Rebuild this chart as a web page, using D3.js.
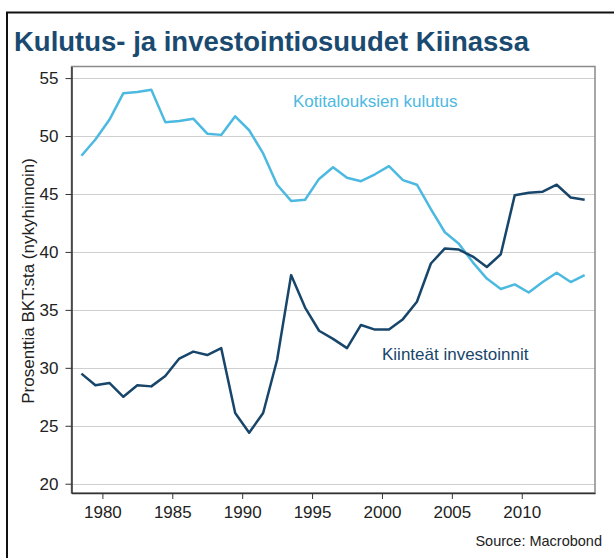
<!DOCTYPE html>
<html>
<head>
<meta charset="utf-8">
<script src="https://cdn.jsdelivr.net/npm/d3@7"></script>
<style>
  body { margin: 0; background: #fff; }
  svg { display: block; font-family: "Liberation Sans", Arial, sans-serif; }
</style>
</head>
<body>
<svg id="chart"></svg>
<script>
const years = d3.range(1978, 2015);

// Kotitalouksien kulutus, % BKT:sta
const consumption = [
  48.3, 49.7, 51.4, 53.7, 53.8, 54.0, 51.2, 51.3, 51.5, 50.2,
  50.1, 51.7, 50.5, 48.5, 45.8, 44.4, 44.5, 46.3, 47.3, 46.4,
  46.1, 46.7, 47.4, 46.2, 45.8, 43.7, 41.7, 40.7, 39.1, 37.7,
  36.8, 37.2, 36.5, 37.4, 38.2, 37.4, 38.0
];

// Kiinteät investoinnit, % BKT:sta
const investment = [
  29.5, 28.5, 28.7, 27.5, 28.5, 28.4, 29.3, 30.8, 31.4, 31.1,
  31.7, 26.1, 24.4, 26.1, 30.7, 38.0, 35.2, 33.2, 32.5, 31.7,
  33.7, 33.3, 33.3, 34.2, 35.7, 39.0, 40.3, 40.2, 39.6, 38.7,
  39.8, 44.9, 45.1, 45.2, 45.8, 44.7, 44.5
];

const yTicks = [20, 25, 30, 35, 40, 45, 50, 55];
const xTicks = [1980, 1985, 1990, 1995, 2000, 2005, 2010];

const width = 614, height = 558;
const margin = { top: 66.5, right: 19, bottom: 65, left: 71.5 };
const lightBlue = '#4cb9e1';
const navy = '#18466b';

const svg = d3.select('#chart')
  .attr('width', width)
  .attr('height', height);

// outer frame (cut off at right and bottom)
svg.append('path')
  .attr('d', `M7,${height + 5}V12.5H${width + 5}`)
  .attr('fill', 'none')
  .attr('stroke', '#111')
  .attr('stroke-width', 2);

svg.append('text')
  .attr('x', 14)
  .attr('y', 51)
  .attr('fill', '#1b4a70')
  .attr('font-size', 27.5)
  .attr('font-weight', 'bold')
  .text('Kulutus- ja investointiosuudet Kiinassa');

const x = d3.scaleLinear()
  .domain([1977.79, 2015.24])
  .range([margin.left, width - margin.right]);

const y = d3.scaleLinear()
  .domain([19.2, 56])
  .range([height - margin.bottom, margin.top]);

// gridlines
svg.append('g')
  .selectAll('line')
  .data(yTicks)
  .join('line')
    .attr('x1', margin.left)
    .attr('x2', width - margin.right)
    .attr('y1', d => Math.round(y(d)) + 0.5)
    .attr('y2', d => Math.round(y(d)) + 0.5)
    .attr('stroke', '#cfcfcf')
    .attr('stroke-width', 1.2);

// plot box
svg.append('rect')
  .attr('x', margin.left)
  .attr('y', margin.top)
  .attr('width', width - margin.right - margin.left)
  .attr('height', height - margin.bottom - margin.top)
  .attr('fill', 'none')
  .attr('stroke', '#8a8a8a')
  .attr('stroke-width', 1.5);

const yAxis = g => g
  .attr('transform', `translate(${margin.left},0)`)
  .call(d3.axisLeft(y).tickValues(yTicks).tickSize(6).tickPadding(7).tickSizeOuter(0))
  .call(g => g.select('.domain').attr('stroke', '#333').attr('stroke-width', 1.5));

const xAxis = g => g
  .attr('transform', `translate(0,${height - margin.bottom})`)
  .call(d3.axisBottom(x).tickValues(xTicks).tickFormat(d3.format('d')).tickSize(6).tickPadding(6.5).tickSizeOuter(0))
  .call(g => g.select('.domain').attr('stroke', '#333').attr('stroke-width', 1.5));

[yAxis, xAxis].forEach(ax => {
  svg.append('g')
    .call(ax)
    .call(g => g.selectAll('.tick line').attr('stroke', '#333'))
    .call(g => g.selectAll('.tick text')
      .attr('fill', '#222')
      .attr('font-size', 17)
      .attr('font-family', '"Liberation Sans", Arial, sans-serif'));
});

svg.append('text')
  .attr('transform', `translate(34,${(y(20) + y(55)) / 2}) rotate(-90)`)
  .attr('text-anchor', 'middle')
  .attr('fill', '#222')
  .attr('font-size', 17)
  .text('Prosenttia BKT:sta (nykyhinnoin)');

const line = d3.line()
  .x((d, i) => x(years[i] + 0.5))
  .y(d => y(d));

svg.append('path')
  .datum(consumption)
  .attr('d', line)
  .attr('fill', 'none')
  .attr('stroke', lightBlue)
  .attr('stroke-width', 2.5)
  .attr('stroke-linejoin', 'round');

svg.append('path')
  .datum(investment)
  .attr('d', line)
  .attr('fill', 'none')
  .attr('stroke', navy)
  .attr('stroke-width', 2.5)
  .attr('stroke-linejoin', 'round');

svg.append('text')
  .attr('x', 293)
  .attr('y', 107)
  .attr('fill', lightBlue)
  .attr('font-size', 17)
  .text('Kotitalouksien kulutus');

svg.append('text')
  .attr('x', 382)
  .attr('y', 360)
  .attr('fill', navy)
  .attr('font-size', 17)
  .text('Kiinteät investoinnit');

svg.append('text')
  .attr('x', 602)
  .attr('y', 546)
  .attr('text-anchor', 'end')
  .attr('fill', '#222')
  .attr('font-size', 14.5)
  .text('Source: Macrobond');
</script>
</body>
</html>
